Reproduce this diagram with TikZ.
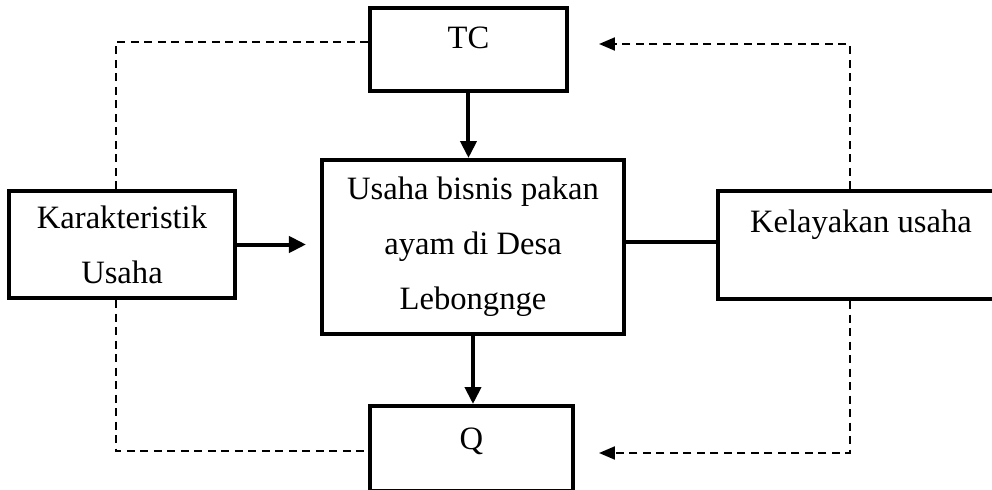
\documentclass[tikz,border=0pt]{standalone}
\usepackage{fontspec}
\setmainfont{Liberation Serif}
\usepackage{tikz}
\usetikzlibrary{shapes, arrows.meta, positioning}
\tikzstyle{block} = [draw, fill=white, rectangle, line width=2pt, inner sep=0pt]
\tikzstyle{link} = [line width=1.1pt, dash pattern=on 4pt off 2.75pt]
\tikzstyle{flow} = [line width=2pt]
\newcommand{\capht}{10.8pt}

\begin{document}
\begin{tikzpicture}[auto, node distance=4cm, >={Triangle[length=8.5pt,width=8pt]}, font=\fontsize{16.3}{27.5}\selectfont]
    \useasboundingbox (-236.5pt,-121pt) rectangle (259.5pt,123.5pt);
    \clip (-236.5pt,-121pt) rectangle (259.5pt,123.5pt);
    \node [block, minimum width=151pt, minimum height=87pt, align=center] (usaha) {Usaha bisnis pakan\\ayam di Desa\\Lebongnge};
    \node [block, above=32.5pt of usaha, xshift=-2.25pt, minimum width=98.5pt, minimum height=41.5pt, text height=\capht, text depth=11.5pt] (tc) {TC};
    \node [block, below=34pt of usaha, xshift=-0.75pt, minimum width=101.5pt, minimum height=42.5pt, text height=\capht, text depth=10pt] (q) {Q};
    \node [block, left=41.5pt of usaha, yshift=1.25pt, minimum width=113pt, minimum height=53.5pt, align=center] (kar) {Karakteristik\\Usaha};
    \node [block, right=45pt of usaha, yshift=1pt, minimum width=143pt, minimum height=54pt, text height=\capht, text depth=23pt] (layak) {Kelayakan usaha};
    % solid connectors
    \draw [flow, ->] (tc.south) -- (tc.south |- usaha.north);
    \draw [flow, ->] (usaha.south) -- (usaha.south |- q.north);
    \draw [flow, ->, shorten >=7pt] (kar.east) -- (kar.east -| usaha.west);
    \draw [flow] ([yshift=1.5pt]layak.west) -- ([yshift=1.5pt]layak.west -| usaha.east);
    % dashed feedback lines
    \draw [link] ([xshift=-3pt]kar.north) |- ([yshift=3.75pt]tc.west);
    \draw [link] ([xshift=-3pt]kar.south) |- ([yshift=-1.25pt]q.west);
    \draw [link, -{Triangle[length=8pt,width=6.5pt]}, shorten >=15pt] ([xshift=-5.5pt]layak.north) |- ([yshift=2.75pt]tc.east);
    \draw [link, -{Triangle[length=8pt,width=6.5pt]}, shorten >=12pt] ([xshift=-5.5pt]layak.south) |- ([yshift=-2.25pt]q.east);
\end{tikzpicture}
\end{document}
